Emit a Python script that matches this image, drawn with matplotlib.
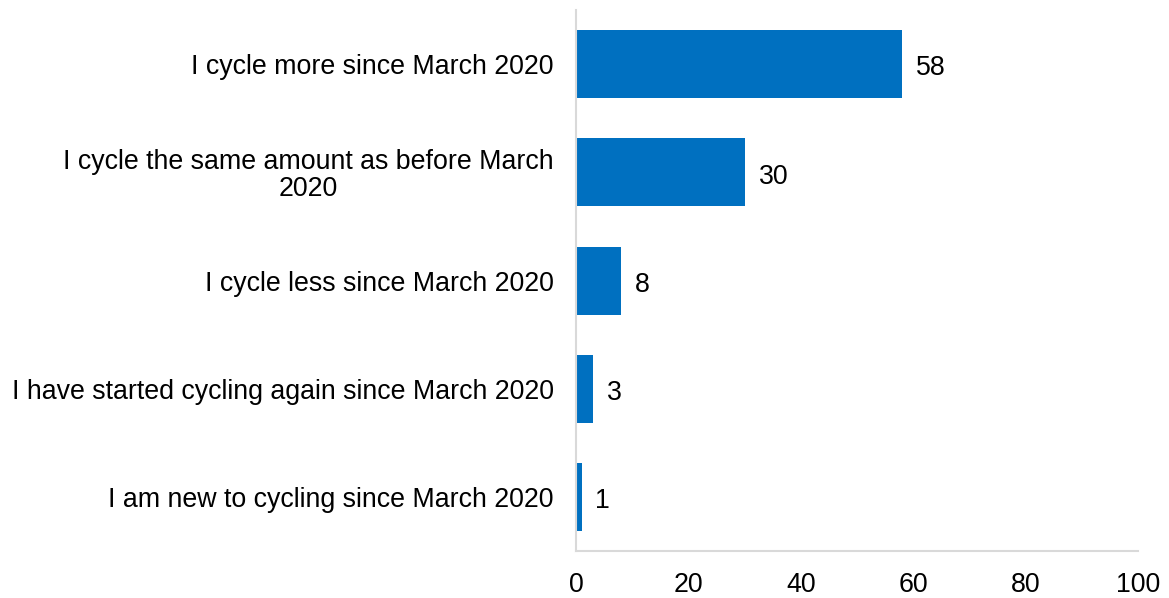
import matplotlib
matplotlib.use("Agg")
import matplotlib.pyplot as plt

categories = [
    "I cycle more since March 2020",
    "I cycle the same amount as before March\n2020",
    "I cycle less since March 2020",
    "I have started cycling again since March 2020",
    "I am new to cycling since March 2020",
]
values = [58, 30, 8, 3, 1]
x_ticks = [0, 20, 40, 60, 80, 100]

plt.rcParams["font.family"] = ["Liberation Sans", "DejaVu Sans"]
FS = 19.3
BAR = "#0070C0"
GRID = "#D9D9D9"

fig = plt.figure(figsize=(11.69, 5.98), dpi=100)
ax = fig.add_axes([0.4927, 0.0786, 0.4808, 0.9044])

pos = list(range(len(categories)))
bars = ax.barh(pos, values, height=0.63, color=BAR)
for p, v in zip(pos, values):
    ax.annotate(str(v), xy=(v, p), xytext=(10, -3), textcoords="offset points",
                ha="left", va="center", fontsize=FS, color="black")

ax.set_xlim(0, 100)
ax.set_ylim(len(categories) - 0.5, -0.5)
ax.set_xticks(x_ticks)
ax.set_xticklabels([str(t) for t in x_ticks], fontsize=FS)
ax.set_yticks(pos)
ax.set_yticklabels(categories, fontsize=FS, ha="right", multialignment="center",
                   linespacing=1.05)
ax.tick_params(axis="both", length=0)
ax.tick_params(axis="y", pad=16)
ax.tick_params(axis="x", pad=15)

for s in ["top", "right"]:
    ax.spines[s].set_visible(False)
for s in ["left", "bottom"]:
    ax.spines[s].set_color(GRID)
    ax.spines[s].set_linewidth(1.5)

fig.savefig("out.png", dpi=100)
